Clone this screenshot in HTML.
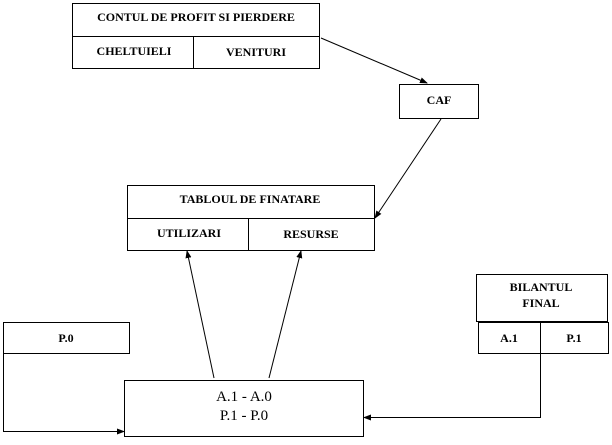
<!DOCTYPE html><html><head><style>
body{margin:0;background:#fff}
svg text{font-family:"Liberation Serif",serif;font-weight:bold;font-size:12px;text-anchor:middle}
</style></head><body>
<svg width="612" height="440" xmlns="http://www.w3.org/2000/svg">
<defs><marker id="a" markerWidth="8" markerHeight="8" refX="7" refY="4" orient="auto" markerUnits="userSpaceOnUse"><path d="M0,1 L8,4 L0,7 z" fill="#000"/></marker></defs>
<g fill="none" stroke="#000" stroke-width="1">
<rect x="72.5" y="3.5" width="247" height="65"/><line x1="72" y1="36.5" x2="319" y2="36.5"/><line x1="193.5" y1="36" x2="193.5" y2="68"/>
<rect x="399.5" y="84.5" width="79" height="34"/>
<rect x="127.5" y="185.5" width="247" height="65"/><line x1="127" y1="218.5" x2="374" y2="218.5"/><line x1="248.5" y1="218" x2="248.5" y2="250"/>
<rect x="3.5" y="322.5" width="126" height="31"/>
<rect x="476.5" y="274.5" width="131" height="47"/>
<rect x="478.5" y="322.5" width="130" height="31"/><line x1="540.5" y1="322" x2="540.5" y2="353"/>
<rect x="124.5" y="380.5" width="239" height="56"/>
<line x1="321" y1="38" x2="427" y2="83" marker-end="url(#a)"/>
<line x1="441" y1="119" x2="375" y2="218" marker-end="url(#a)"/>
<line x1="214" y1="378" x2="187" y2="251" marker-end="url(#a)"/>
<line x1="269" y1="378" x2="301" y2="251" marker-end="url(#a)"/>
<polyline points="3.5,353 3.5,431.5 124,431.5" marker-end="url(#a)"/>
<polyline points="540.5,353 540.5,417.5 364,417.5" marker-end="url(#a)"/>
</g>
<text x="196" y="21">CONTUL DE PROFIT  SI PIERDERE</text>
<text x="134" y="55">CHELTUIELI</text>
<text x="256" y="56">VENITURI</text>
<text x="439" y="104">CAF</text>
<text x="250" y="203">TABLOUL DE FINATARE</text>
<text x="189" y="237">UTILIZARI</text>
<text x="311" y="238">RESURSE</text>
<text x="66" y="342">P.0</text>
<text x="541" y="291">BILANTUL</text>
<text x="541" y="307">FINAL</text>
<text x="509" y="342">A.1</text>
<text x="574" y="342">P.1</text>
<text x="244" y="401" style="font-weight:normal;font-size:15px">A.1  -  A.0</text>
<text x="244" y="420" style="font-weight:normal;font-size:15px">P.1  -  P.0</text>
</svg>
</body></html>
